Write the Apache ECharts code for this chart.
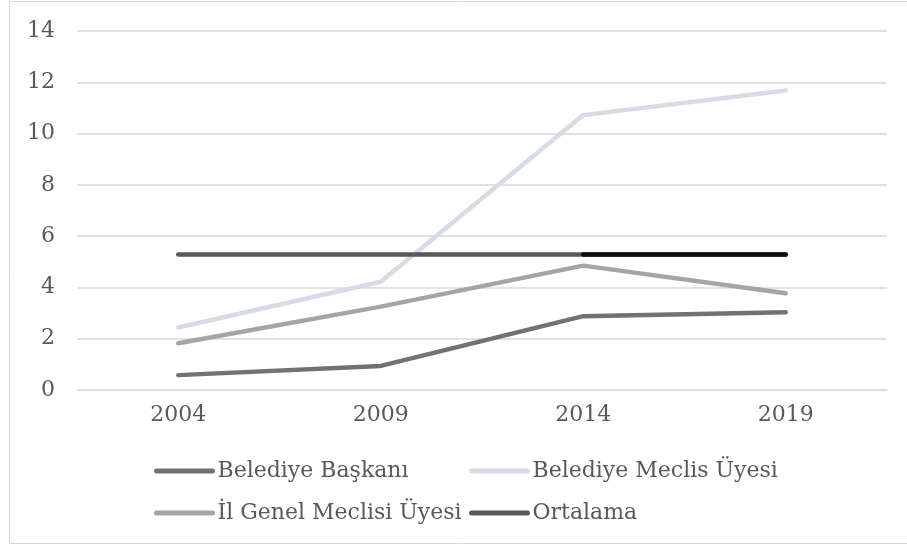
<!DOCTYPE html>
<html><head><meta charset="utf-8">
<script src="https://cdn.jsdelivr.net/npm/echarts@6/dist/echarts.min.js"></script>
<style>html,body{margin:0;padding:0;background:#fff}#c{width:907px;height:546px}</style>
</head><body><div id="c"></div>
<script>
const categories = ['2004', '2009', '2014', '2019'];
const yTicks = [0, 2, 4, 6, 8, 10, 12, 14];
const baskani = [0.58, 0.94, 2.88, 3.03];
const meclisUyesi = [2.44, 4.22, 10.72, 11.68];
const ilGenel = [1.82, 3.25, 4.85, 3.77];
const ortalama = [5.28, 5.28, 5.28, 5.28];
const ortalamaSon = [null, null, 5.28, 5.28];
const names = ['Belediye Başkanı', 'Belediye Meclis Üyesi', 'İl Genel Meclisi Üyesi', 'Ortalama'];
const colors = ['#767171', '#D6DCE5', '#A5A5A5', '#595959'];

const font = 'DejaVu Serif';
const chart = echarts.init(document.getElementById('c'));
function mk(name, data, color, z) {
  return { name, type: 'line', data, symbol: 'none', z: z,
    lineStyle: { color, width: 4.5, cap: 'round', join: 'round' },
    itemStyle: { color }, emphasis: { disabled: true }, animation: false };
}
const legendPos = [[154, 460], [469, 460], [154, 502], [469, 502]];
chart.setOption({
  animation: false,
  graphic: [{ type: 'rect', shape: { x: 9.5, y: 1.5, width: 920, height: 542 },
    style: { fill: 'none', stroke: '#d9d9d9', lineWidth: 1 } }],
  grid: { left: 77, right: 20, top: 31, bottom: 156 },
  legend: names.map((n, i) => ({
    data: [n], left: legendPos[i][0], top: legendPos[i][1], padding: 0,
    itemWidth: 56, itemHeight: 5, itemGap: 0,
    itemStyle: { opacity: 0 },
    lineStyle: { width: 5, cap: 'round' },
    textStyle: { fontFamily: font, fontSize: 22, color: '#595959' }
  })),
  xAxis: { type: 'category', data: categories, boundaryGap: true,
    axisLine: { lineStyle: { color: '#d9d9d9', width: 1.5 } }, axisTick: { show: false },
    axisLabel: { fontFamily: font, fontSize: 22, color: '#595959', margin: 14 } },
  yAxis: { type: 'value', min: yTicks[0], max: yTicks[yTicks.length - 1], interval: 2,
    axisLine: { show: false }, axisTick: { show: false },
    splitLine: { lineStyle: { color: '#d9d9d9', width: 1.5 } },
    axisLabel: { fontFamily: font, fontSize: 22, color: '#595959', margin: 22 } },
  series: [
    mk(names[0], baskani, colors[0], 2),
    mk(names[1], meclisUyesi, colors[1], 2),
    mk(names[2], ilGenel, colors[2], 2),
    mk(names[3], ortalama, colors[3], 3),
    mk('ortalamaSon', ortalamaSon, '#0D0D0D', 4)
  ]
});
</script></body></html>
